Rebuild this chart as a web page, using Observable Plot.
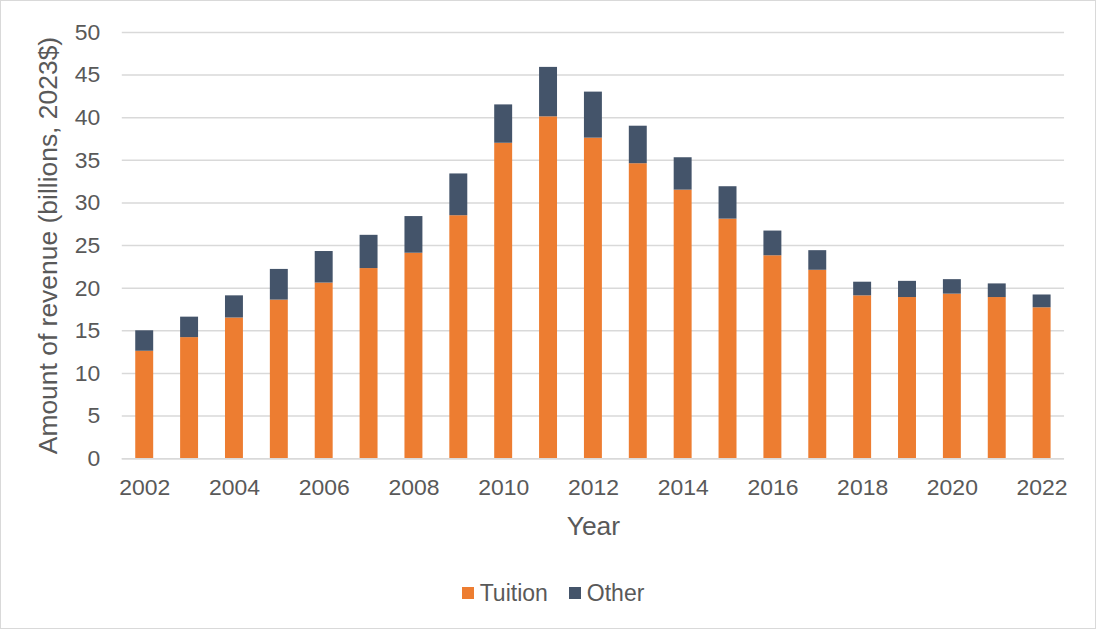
<!DOCTYPE html>
<html>
<head>
<meta charset="utf-8">
<script src="https://cdn.jsdelivr.net/npm/d3@7"></script>
<script src="https://cdn.jsdelivr.net/npm/@observablehq/plot@0.6"></script>
<style>
  html, body { margin: 0; padding: 0; background: #fff; }
  #wrap { width: 1096px; height: 629px; box-sizing: border-box; border: 1px solid #d9d9d9; position: relative; overflow: hidden; font-family: "Liberation Sans", Arial, sans-serif; }
  #chart svg { display: block; position: absolute; left: -1px; top: -1px; }
  #legend { position: absolute; left: 10px; right: 0; top: 579px; display: flex; justify-content: center; align-items: center; gap: 21px; font-size: 23px; color: #595959; line-height: 26px; }
  .item { display: flex; align-items: center; gap: 6px; }
  .sw { width: 12px; height: 12px; display: inline-block; }
</style>
</head>
<body>
<div id="wrap">
  <div id="chart"></div>
  <div id="legend"></div>
</div>
<script>
const years = [2002,2003,2004,2005,2006,2007,2008,2009,2010,2011,2012,2013,2014,2015,2016,2017,2018,2019,2020,2021,2022];
const tuition = [12.6,14.2,16.5,18.6,20.6,22.3,24.1,28.5,37.0,40.1,37.6,34.6,31.5,28.1,23.8,22.1,19.1,18.9,19.3,18.9,17.7];
const total   = [15.0,16.6,19.1,22.2,24.3,26.2,28.4,33.4,41.5,45.9,43.0,39.0,35.3,31.9,26.7,24.4,20.7,20.8,21.0,20.5,19.2];
const other = total.map((t, i) => +(t - tuition[i]).toFixed(2));
const seriesNames = ["Tuition", "Other"];
const seriesColors = ["#ED7D31", "#44546A"];
const yTicks = [0,5,10,15,20,25,30,35,40,45,50];

const data = [];
years.forEach((y, i) => {
  data.push({year: y, series: "Tuition", value: tuition[i]});
  data.push({year: y, series: "Other", value: other[i]});
});

const chart = Plot.plot({
  width: 1096,
  height: 545,
  marginTop: 32,
  marginBottom: 86,
  marginLeft: 122,
  marginRight: 30,
  style: {fontFamily: "'Liberation Sans', Arial, sans-serif", fontSize: "23px", color: "#595959", background: "transparent"},
  x: {
    type: "band",
    domain: years,
    paddingInner: 0.6,
    paddingOuter: 0.3,
    round: false,
    tickSize: 0,
    tickPadding: 20,
    tickFormat: d => (d % 2 === 0 ? String(d) : ""),
    label: "Year",
    labelAnchor: "center",
    labelOffset: 76,
    labelArrow: "none"
  },
  y: {
    domain: [0, 50],
    ticks: yTicks,
    tickSize: 0,
    tickPadding: 22,
    label: "Amount of revenue (billions, 2023$)",
    labelAnchor: "center",
    labelOffset: 84,
    labelArrow: "none"
  },
  color: {domain: seriesNames, range: seriesColors},
  marks: [
    Plot.gridY(yTicks, {stroke: "#d9d9d9", strokeOpacity: 1, strokeWidth: 1.5}),
    Plot.barY(data, {x: "year", y: "value", fill: "series", order: seriesNames}),
    Plot.ruleY([0], {stroke: "#d9d9d9", strokeWidth: 1.5})
  ]
});
chart.querySelectorAll("[aria-label='x-axis label'] text, [aria-label='y-axis label'] text").forEach(t => t.setAttribute("font-size", "26.5px"));
document.getElementById("chart").appendChild(chart);

const legend = document.getElementById("legend");
seriesNames.forEach((n, i) => {
  const it = document.createElement("div");
  it.className = "item";
  it.innerHTML = `<span class="sw" style="background:${seriesColors[i]}"></span><span>${n}</span>`;
  legend.appendChild(it);
});
</script>
</body>
</html>
